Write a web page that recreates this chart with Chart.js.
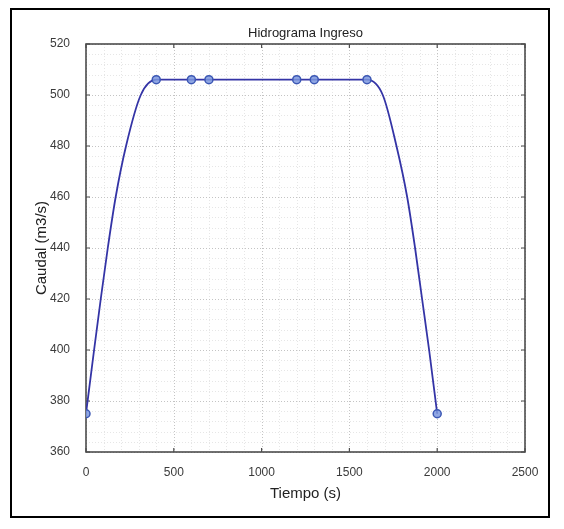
<!DOCTYPE html>
<html>
<head>
<meta charset="utf-8">
<script src="https://cdn.jsdelivr.net/npm/chart.js@4/dist/chart.umd.min.js"></script>
<style>
  html, body { margin: 0; padding: 0; background: #fff; }
  #wrap { width: 564px; height: 529px; position: relative; }
</style>
</head>
<body>
<div id="wrap"><canvas id="c" width="564" height="529"></canvas></div>
<script>
// Inflow hydrograph: smooth rising limb, plateau, falling limb
const curveTime = [0, 46, 84, 124, 169, 228, 312, 400, 600, 700, 1200, 1300, 1600, 1690, 1768, 1829, 1874, 1914, 1954, 2000];
const curveFlow = [375, 400, 420, 440, 460, 480, 500, 506, 506, 506, 506, 506, 506, 500, 480, 460, 440, 420, 400, 375];

// Hydrograph nodes shown with circle markers
const nodeTime = [0, 400, 600, 700, 1200, 1300, 1600, 2000];
const nodeFlow = [375, 506, 506, 506, 506, 506, 506, 375];

// Axis ticks
const xTicks = [0, 500, 1000, 1500, 2000, 2500];
const yTicks = [360, 380, 400, 420, 440, 460, 480, 500, 520];
const xMinorStep = 100;
const yMinorStep = 4;

const FONT = "'Liberation Sans', Arial, Helvetica, sans-serif";

// Grid, axes box and inward ticks in the MATLAB style
const axesBox = {
  id: 'axesBox',
  beforeDatasetsDraw(chart) {
    const { ctx, chartArea: a, scales: { x, y } } = chart;
    ctx.save();
    ctx.lineWidth = 1;
    ctx.setLineDash([1, 2]);
    // minor grid
    ctx.strokeStyle = '#e6e6e6';
    for (let v = x.min + xMinorStep; v < x.max; v += xMinorStep) {
      const px = Math.round(x.getPixelForValue(v)) + 0.5;
      ctx.beginPath(); ctx.moveTo(px, a.top); ctx.lineTo(px, a.bottom); ctx.stroke();
    }
    for (let v = y.min + yMinorStep; v < y.max; v += yMinorStep) {
      const py = Math.round(y.getPixelForValue(v)) + 0.5;
      ctx.beginPath(); ctx.moveTo(a.left, py); ctx.lineTo(a.right, py); ctx.stroke();
    }
    // major grid
    ctx.strokeStyle = '#c4c4c4';
    x.ticks.forEach(t => {
      const px = Math.round(x.getPixelForValue(t.value)) + 0.5;
      ctx.beginPath(); ctx.moveTo(px, a.top); ctx.lineTo(px, a.bottom); ctx.stroke();
    });
    y.ticks.forEach(t => {
      const py = Math.round(y.getPixelForValue(t.value)) + 0.5;
      ctx.beginPath(); ctx.moveTo(a.left, py); ctx.lineTo(a.right, py); ctx.stroke();
    });
    ctx.setLineDash([]);
    // box
    ctx.strokeStyle = '#4d4d4d';
    ctx.lineWidth = 1.6;
    ctx.strokeRect(a.left, a.top, a.right - a.left, a.bottom - a.top);
    // inward ticks
    ctx.lineWidth = 1.2;
    const tl = 4;
    x.ticks.forEach(t => {
      const px = x.getPixelForValue(t.value);
      ctx.beginPath();
      ctx.moveTo(px, a.bottom); ctx.lineTo(px, a.bottom - tl);
      ctx.moveTo(px, a.top); ctx.lineTo(px, a.top + tl);
      ctx.stroke();
    });
    y.ticks.forEach(t => {
      const py = y.getPixelForValue(t.value);
      ctx.beginPath();
      ctx.moveTo(a.left, py); ctx.lineTo(a.left + tl, py);
      ctx.moveTo(a.right, py); ctx.lineTo(a.right - tl, py);
      ctx.stroke();
    });
    ctx.restore();
  },
  afterDraw(chart) {
    // figure frame
    const { ctx } = chart;
    ctx.save();
    ctx.strokeStyle = '#000';
    ctx.lineWidth = 2;
    ctx.strokeRect(11, 9, 538, 508);
    ctx.restore();
  }
};

new Chart(document.getElementById('c'), {
  type: 'line',
  data: {
    datasets: [
      {
        label: 'Caudal',
        data: curveTime.map((t, i) => ({ x: t, y: curveFlow[i] })),
        borderColor: '#3434a6',
        borderWidth: 1.8,
        pointRadius: 0,
        cubicInterpolationMode: 'monotone',
        fill: false,
        order: 2
      },
      {
        label: 'Nodos',
        data: nodeTime.map((t, i) => ({ x: t, y: nodeFlow[i] })),
        showLine: false,
        pointStyle: 'circle',
        pointRadius: 4,
        pointBorderWidth: 1.5,
        pointBorderColor: '#3b57b4',
        pointBackgroundColor: 'rgba(125,152,222,0.85)',
        order: 1
      }
    ]
  },
  options: {
    responsive: false,
    animation: false,
    devicePixelRatio: 1,
    layout: { padding: { left: 0, right: 39, top: 0, bottom: 0 } },
    plugins: {
      legend: { display: false },
      tooltip: { enabled: false },
      title: {
        display: true,
        text: 'Hidrograma Ingreso',
        fullSize: false,
        color: '#222',
        font: { family: FONT, size: 13, weight: 'normal' },
        padding: { top: 26, bottom: 2.4 }
      }
    },
    scales: {
      x: {
        type: 'linear',
        min: 0,
        max: 2500,
        afterBuildTicks: s => { s.ticks = xTicks.map(v => ({ value: v })); },
        afterFit: s => { s.height = 77; },
        grid: { display: false, drawTicks: false },
        border: { display: false },
        ticks: {
          color: '#3a3a3a',
          font: { family: FONT, size: 12 },
          padding: 13,
          maxRotation: 0,
          callback: v => String(v)
        },
        title: {
          display: true,
          text: 'Tiempo (s)',
          color: '#222',
          font: { family: FONT, size: 15 },
          padding: { top: 0, bottom: 26 }
        }
      },
      y: {
        type: 'linear',
        min: 360,
        max: 520,
        afterBuildTicks: s => { s.ticks = yTicks.map(v => ({ value: v })); },
        afterFit: s => { s.width = 86; },
        grid: { display: false, drawTicks: false },
        border: { display: false },
        ticks: {
          color: '#3a3a3a',
          font: { family: FONT, size: 12 },
          padding: 16,
          callback: v => String(v)
        },
        title: {
          display: true,
          text: 'Caudal (m3/s)',
          color: '#222',
          font: { family: FONT, size: 15 },
          padding: { top: 33, bottom: 0 }
        }
      }
    }
  },
  plugins: [axesBox]
});
</script>
</body>
</html>
